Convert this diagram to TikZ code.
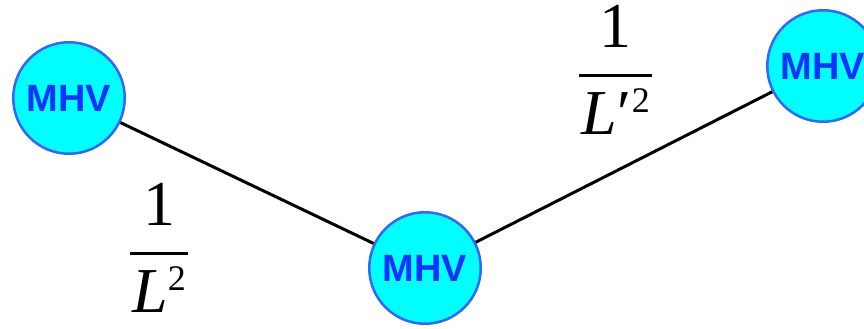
\documentclass[tikz,border=0pt]{standalone}
\usepackage{fontspec}
\setmainfont{Liberation Serif}
\newfontfamily\labelsans{Liberation Sans}
\definecolor{mhvfill}{RGB}{0,255,255}
\definecolor{mhvedge}{RGB}{51,102,255}
\definecolor{mhvtext}{RGB}{20,50,255}
% stacked fraction: numerator, bar, denominator; baseline = denominator baseline
\newcommand{\weightfrac}[2]{%
  \vbox{\offinterlineskip\halign{\hfil##\hfil\cr
    #1\cr
    \noalign{\kern26.5pt\hrule height3pt\kern15.5pt}
    \kern2pt #2\kern2pt\cr}}}
\newcommand{\supnum}[1]{\smash{\raisebox{22pt}{\fontsize{36}{36}\selectfont #1}}}
\tikzset{
  mhv/.style={circle, draw=mhvedge, line width=2.5pt, fill=mhvfill,
    minimum size=111.5pt, inner sep=0pt,
    text=mhvtext, font=\labelsans\bfseries\fontsize{38}{40}\selectfont},
  link/.style={line width=3pt, black},
  weight/.style={anchor=base, inner sep=0pt, font=\fontsize{64}{70}\selectfont}
}
\begin{document}
\begin{tikzpicture}[x=1pt, y=-1pt]
  \useasboundingbox (0,0) rectangle (864,329);
  \node[mhv] (v1) at (69,98) {MHV};
  \node[mhv] (v2) at (425,268) {MHV};
  \node[mhv] (v3) at (823,66) {MHV};
  \draw[link] (v1) -- (v2);
  \draw[link] (v2) -- (v3);
  \node[weight] (w1) at (159,312) {\weightfrac{1}{\textit{L}\supnum{2}}};
  \node[weight] (w2) at (615.5,134) {\weightfrac{1}{\textit{L}\kern1pt\char"2032\supnum{2}}};
\end{tikzpicture}
\end{document}
